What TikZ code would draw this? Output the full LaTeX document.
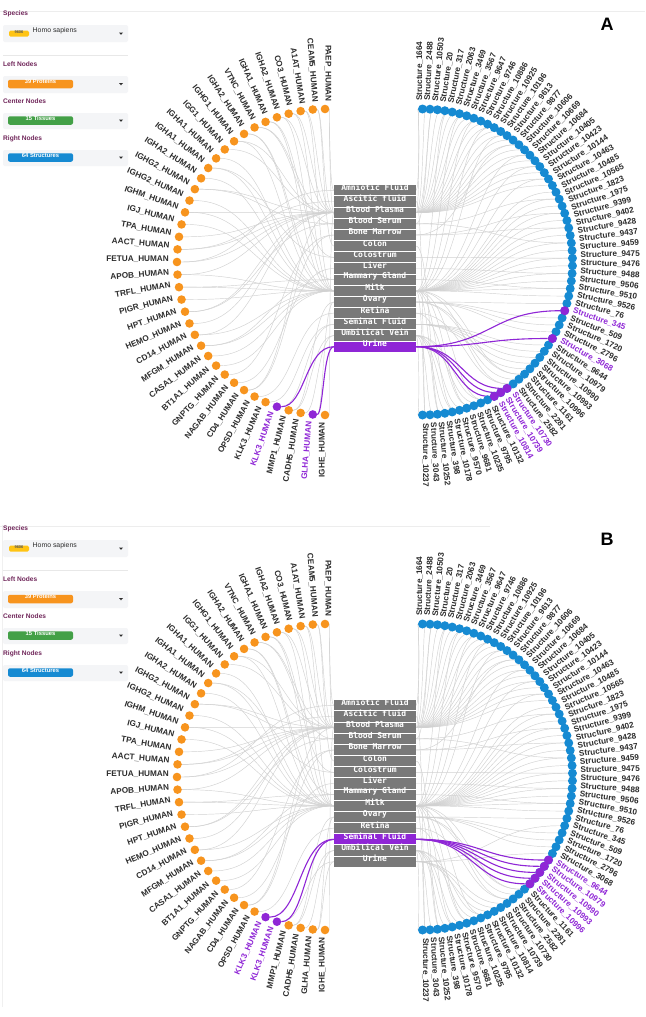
\documentclass[tikz,border=0pt]{standalone}
\usepackage{fontspec}
\setmainfont{Liberation Sans}
\newfontfamily\tissuefont{DejaVu Sans Mono}
\usetikzlibrary{calc}
\definecolor{nodeorange}{RGB}{247,148,30}
\definecolor{nodeblue}{RGB}{22,138,210}
\definecolor{hot}{RGB}{143,38,214}
\definecolor{boxgray}{RGB}{121,121,121}
\definecolor{ink}{RGB}{45,45,45}
\definecolor{hdr}{RGB}{112,38,90}
\definecolor{pillgreen}{RGB}{67,160,71}
\definecolor{badge}{RGB}{255,196,20}
\definecolor{panelbg}{RGB}{244,245,247}
\pgfdeclarelayer{back}
\pgfdeclarelayer{edges}
\pgfsetlayers{back,edges,main}

\tikzset{
  pdot/.style={circle,inner sep=0pt,minimum size=8.6pt},
  sdot/.style={circle,inner sep=0pt,minimum size=9pt},
  plabel/.style={anchor=east,inner sep=0pt,font=\fontsize{8.2}{9}\selectfont\bfseries},
  slabel/.style={anchor=west,inner sep=0pt,font=\fontsize{8.2}{9}\selectfont\bfseries},
  tbox/.style={minimum width=82pt,minimum height=10.2pt,inner sep=0pt,text=white,
    font=\tissuefont\fontsize{8}{9}\selectfont\bfseries},
  grayline/.style={draw=black!18,line width=0.45pt},
  hotline/.style={draw=hot,line width=1.1pt},
  hlink/.style={to path={let \p1=(\tikztostart), \p2=(\tikztotarget) in
    .. controls ({(\x1+\x2)/2},\y1) and ({(\x1+\x2)/2},\y2) .. (\tikztotarget)}},
  sidehead/.style={anchor=west,inner sep=0pt,text=hdr,font=\fontsize{6.6}{7}\selectfont\bfseries},
  field/.style={fill=panelbg,rounded corners=2pt},
  pill/.style={rounded corners=2pt,text=white,inner sep=0pt,minimum width=65pt,
    minimum height=8.5pt,font=\fontsize{5.8}{6}\selectfont\bfseries},
  caret/.style={fill=ink}
}

% lists: name/highlight (1 = panel A, 2 = panel B, 3 = both)
\def\proteins{PAEP/0,CEAM5/0,A1AT/0,CO3/0,IGHA2/0,IGHA1/0,VTNC/0,IGHA2/0,IGHG1/0,IGG1/0,
  IGHA1/0,IGHA1/0,IGHA2/0,IGHG2/0,IGHG2/0,IGHM/0,IGJ/0,TPA/0,AACT/0,FETUA/0,APOB/0,TRFL/0,
  PIGR/0,HPT/0,HEMO/0,CD14/0,MFGM/0,CASA1/0,BT1A1/0,GNPTG/0,NAGAB/0,CD4/0,OPSD/0,KLK3/2,
  KLK3/3,MMP1/0,CADH5/0,GLHA/1,IGHE/0}
\def\tissues{Amniotic Fluid/0,Ascitic fluid/0,Blood Plasma/0,Blood Serum/0,Bone Marrow/0,
  Colon/0,Colostrum/0,Liver/0,Mammary Gland/0,Milk/0,Ovary/0,Retina/0,Seminal Fluid/2,
  Umbilical Vein/0,Urine/1}
\def\structs{1664/0,2488/0,10503/0,20/0,317/0,2063/0,3469/0,3567/0,9647/0,9746/0,10886/0,
  10925/0,10196/0,9613/0,9877/0,10606/0,10669/0,10684/0,10405/0,10423/0,10144/0,10463/0,
  10485/0,10565/0,1823/0,1975/0,9399/0,9402/0,9428/0,9437/0,9459/0,9475/0,9476/0,9488/0,
  9506/0,9510/0,9526/0,76/0,345/1,509/0,1720/0,2796/0,3068/1,9644/2,10979/2,10990/2,
  10993/2,10996/2,1161/0,2281/0,2582/0,10730/1,10739/1,10814/1,10132/0,9795/0,10235/0,
  9681/0,9570/0,10178/0,398/0,10252/0,3043/0,10237/0}
% links: protein/tissue and structure/tissue
\def\leftlinks{1/1,1/3,2/6,2/3,3/3,3/10,4/3,4/10,5/10,5/3,6/10,6/7,7/3,7/4,8/9,8/10,9/3,
  9/10,10/3,11/10,12/10,12/7,13/10,14/3,14/4,15/10,16/10,16/3,17/10,18/3,19/3,19/2,20/1,
  20/3,21/3,21/10,22/10,22/9,23/10,24/3,24/4,25/3,26/10,26/3,27/10,27/9,28/10,29/10,30/5,
  31/8,32/5,32/3,33/12,34/13,35/13,35/15,36/11,36/14,37/14,38/15,38/11,39/3}
\def\rightlinks{1/3,2/3,3/3,4/3,5/3,6/3,7/3,8/3,9/3,10/3,11/3,12/3,13/3,14/3,15/3,16/3,
  17/3,18/3,19/3,20/3,21/3,22/3,1/1,3/4,5/10,7/10,9/10,11/10,13/10,15/5,17/10,19/10,21/10,
  23/10,24/10,25/10,26/10,27/10,28/10,29/10,30/10,31/10,32/10,33/10,34/10,35/10,36/10,
  37/10,24/4,26/5,28/5,30/4,32/7,34/8,36/9,38/11,39/15,40/11,41/11,42/11,43/15,44/13,
  45/13,46/13,47/13,48/13,49/11,50/11,51/12,52/15,53/15,54/15,55/14,56/14,57/12,58/14,
  59/14,60/14,61/6,62/14,63/2,64/14,49/10,51/10,55/10,57/10,59/10,61/10,63/10}

\begin{document}
\begin{tikzpicture}[x=1pt,y=1pt]
  \begin{pgfonlayer}{back}
    \fill[white] (0,0) rectangle (645,-1017);
  \end{pgfonlayer}
  \useasboundingbox (0,0) rectangle (645,-1017);

  \foreach \pn/\dy/\k/\ht/\tw in {A/0/1/15/645,B/515/2/13/490}{
  \begin{scope}[yshift=-\dy pt]
    % side panel
    \draw[black!7,line width=0.6pt] (0,-11) -- (\tw,-11);
    \node[sidehead] (\pn hsp) at (3,-16) {Species};
    \fill[field] (3,-25) rectangle (128,-42);
    \node[fill=badge,rounded corners=1.5pt,minimum width=20pt,minimum height=6pt,inner sep=0pt,
      font=\fontsize{4}{4}\selectfont\bfseries,text=ink!80] (\pn tax) at (19,-33.5) {9606};
    \node[anchor=west,inner sep=0pt,text=ink,font=\fontsize{6.9}{8}\selectfont]
      (\pn org) at (32.5,-33.5) {Homo sapiens};
    \fill[caret] (119,-32.5) -- (123,-32.5) -- (121,-34.8) -- cycle;
    \draw[black!9] (3,-55) -- (128,-55);

    \node[sidehead] (\pn hl) at (3,-67) {Left Nodes};
    \fill[field] (3,-76) rectangle (128,-93);
    \node[pill,fill=nodeorange] (\pn pl) at (40.5,-84) {39 Proteins};
    \fill[caret] (119,-83) -- (123,-83) -- (121,-85.3) -- cycle;

    \node[sidehead] (\pn hc) at (3,-104) {Center Nodes};
    \fill[field] (3,-113) rectangle (128,-129);
    \node[pill,fill=pillgreen] (\pn pc) at (40.5,-120.5) {15 Tissues};
    \fill[caret] (119,-119.5) -- (123,-119.5) -- (121,-121.8) -- cycle;

    \node[sidehead] (\pn hr) at (3,-141) {Right Nodes};
    \fill[field] (3,-150) rectangle (128,-166);
    \node[pill,fill=nodeblue] (\pn pr) at (40.5,-157.5) {64 Structures};
    \fill[caret] (119,-156.5) -- (123,-156.5) -- (121,-158.8) -- cycle;

    \node[font=\fontsize{18}{20}\selectfont\bfseries] (\pn tag) at (607,-30) {\pn};

    % proteins
    \begin{scope}[shift={(325,-262)}]
      \foreach \n/\f [count=\i] in \proteins {
        \pgfmathsetmacro\a{90+(\i-1)*180/38}
        \pgfmathtruncatemacro\hl{(\f==\k)||(\f==3)}
        \ifnum\hl=1 \def\dc{hot}\def\lc{hot}\else\def\dc{nodeorange}\def\lc{ink}\fi
        \node[pdot,fill=\dc] (\pn l\i) at (\a:148 and 153) {};
        \node[plabel,text=\lc,rotate=\a-180] (\pn pn\i) at (\a:156 and 160) {\n\_HUMAN};
      }
    \end{scope}

    % tissues
    \foreach \n/\f [count=\i] in \tissues {
      \pgfmathtruncatemacro\hl{\f==\k}
      \ifnum\hl=1 \def\dc{hot}\else\def\dc{boxgray}\fi
      \node[tbox,fill=\dc] (\pn t\i) at (375,{-190.3-(\i-1)*11.17}) {\n};
    }

    % structures
    \begin{scope}[shift={(422.5,-262)}]
      \foreach \n/\f [count=\i] in \structs {
        \pgfmathsetmacro\a{90-(\i-1)*180/63}
        \pgfmathtruncatemacro\hl{\f==\k}
        \ifnum\hl=1 \def\lc{hot}\else\def\lc{ink}\fi
        \node[sdot,fill=nodeblue] (\pn r\i) at (\a:150 and 153) {};
        \node[slabel,text=\lc,rotate=\a] (\pn sn\i) at (\a:158 and 161) {Structure\_\n};
      }
      \foreach \n/\f [count=\i] in \structs {
        \pgfmathsetmacro\a{90-(\i-1)*180/63}
        \pgfmathtruncatemacro\hl{\f==\k}
        \ifnum\hl=1 \node[sdot,fill=hot] (\pn rh\i) at (\a:150 and 153) {};\fi
      }
    \end{scope}

    % links
    \begin{pgfonlayer}{edges}
      \foreach \s/\t in \leftlinks {
        \ifnum\t=\ht\relax\else \draw[grayline] (\pn l\s) to[hlink] (\pn t\t.west);\fi
      }
      \foreach \s/\t in \rightlinks {
        \ifnum\t=\ht\relax\else \draw[grayline] (\pn t\t.east) to[hlink] (\pn r\s);\fi
      }
      \foreach \s/\t in \leftlinks {
        \ifnum\t=\ht \draw[hotline] (\pn l\s) to[hlink] (\pn t\t.west);\fi
      }
      \foreach \s/\t in \rightlinks {
        \ifnum\t=\ht \draw[hotline] (\pn t\t.east) to[hlink] (\pn r\s);\fi
      }
    \end{pgfonlayer}
  \end{scope}
  }
  \draw[black!6] (2,-525) -- (2,-1007);
\end{tikzpicture}
\end{document}
